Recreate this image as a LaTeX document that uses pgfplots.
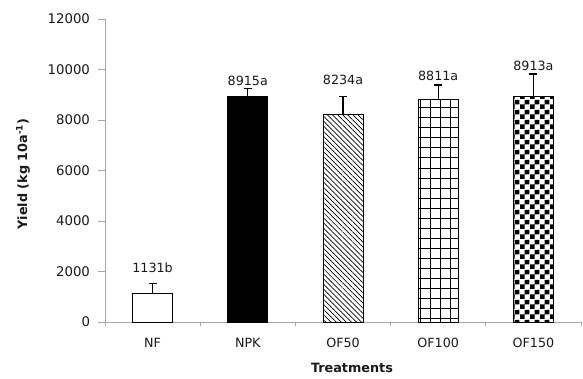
\documentclass[border=0pt]{standalone}
\usepackage{fontspec}
\setmainfont{DejaVu Sans}
\usepackage{pgfplots}
\pgfplotsset{compat=1.18}
\usetikzlibrary{patterns,patterns.meta}
\definecolor{axgray}{HTML}{A6A6A6}
\definecolor{txt}{HTML}{1A1A1A}
\pgfdeclarepatternformonly{mycheck}{\pgfpointorigin}{\pgfqpoint{10pt}{10pt}}{\pgfqpoint{10pt}{10pt}}{%
  \pgfpathrectangle{\pgfpointorigin}{\pgfqpoint{5pt}{5pt}}%
  \pgfpathrectangle{\pgfqpoint{5pt}{5pt}}{\pgfqpoint{5pt}{5pt}}%
  \pgfusepath{fill}}
\pgfplotstableread{
x y err
0 1131 400
1 8915 330
2 8234 700
3 8811 575
4 8913 910
}\data
\pgfplotstableread{
x y label
0 2150 1131b
1 9556 8915a
2 9584 8234a
3 9743 8811a
4 10139 8913a
}\labels
\begin{document}
\begin{tikzpicture}
\useasboundingbox (-105pt,-56pt) rectangle (478pt,322pt);
\begin{axis}[
  scale only axis,
  width=476pt, height=303pt,
  xmin=-0.5, xmax=4.5,
  ymin=0, ymax=12000,
  axis x line*=bottom, axis y line*=left,
  axis line style={axgray, line width=0.8pt},
  ytick={0,2000,...,12000},
  xtick={0,1,2,3,4},
  xticklabels={NF,NPK,OF50,OF100,OF150},
  minor xtick={-0.5,0.5,1.5,2.5,3.5,4.5},
  tick align=outside,
  major tick length=7pt,
  minor tick length=4pt,
  x tick style={axgray, line width=0.8pt},
  major x tick style={draw=none},
  y tick style={axgray, line width=0.8pt},
  scaled y ticks=false,
  /pgf/number format/assume math mode=true,
  yticklabel style={/pgf/number format/fixed, /pgf/number format/1000 sep={}, font=\fontsize{13.3}{15}\selectfont, text=txt, xshift=-4.5pt},
  xticklabel style={font=\fontsize{12.7}{14}\selectfont, text=txt, anchor=center, yshift=-14pt},
  every axis x label/.style={at={(axis description cs:0.5,0)}, yshift=-46pt, xshift=9pt, anchor=center, font=\bfseries\fontsize{12.8}{14}\selectfont, text=txt},
  every axis y label/.style={at={(axis description cs:0,0.5)}, xshift=-82pt, yshift=-3.5pt, rotate=90, anchor=center, font=\bfseries\fontsize{12.8}{14}\selectfont, text=txt},
  xlabel={Treatments},
  ylabel={Yield (kg 10a\textsuperscript{-1})},
  clip=false,
]
\addplot[ybar, bar shift=0pt, bar width=40pt, draw=black, line width=1pt, fill=white,
  error bars/.cd, y dir=plus, y explicit, error bar style={black, line width=1.2pt}, error mark options={rotate=90, mark size=4pt, line width=1.2pt}]
  table[x=x, y=y, y error=err, restrict expr to domain={\thisrow{x}}{0:0}] {\data};
\addplot[ybar, bar shift=0pt, bar width=40pt, draw=black, line width=1pt, fill=black,
  error bars/.cd, y dir=plus, y explicit, error bar style={black, line width=1.2pt}, error mark options={rotate=90, mark size=4pt, line width=1.2pt}]
  table[x=x, y=y, y error=err, restrict expr to domain={\thisrow{x}}{1:1}] {\data};
\addplot[ybar, bar shift=0pt, bar width=40pt, draw=black, line width=1pt, fill=white,
  pattern={Lines[angle=-45, distance=3.6pt, line width=0.7pt]},
  error bars/.cd, y dir=plus, y explicit, error bar style={black, line width=1.2pt}, error mark options={rotate=90, mark size=4pt, line width=1.2pt}]
  table[x=x, y=y, y error=err, restrict expr to domain={\thisrow{x}}{2:2}] {\data};
\addplot[ybar, bar shift=0pt, bar width=40pt, draw=black, line width=1pt, fill=white,
  pattern={Hatch[angle=0, distance=10pt, line width=1pt]},
  error bars/.cd, y dir=plus, y explicit, error bar style={black, line width=1.2pt}, error mark options={rotate=90, mark size=4pt, line width=1.2pt}]
  table[x=x, y=y, y error=err, restrict expr to domain={\thisrow{x}}{3:3}] {\data};
\addplot[ybar, bar shift=0pt, bar width=40pt, draw=black, line width=1pt, fill=white,
  pattern=mycheck,
  error bars/.cd, y dir=plus, y explicit, error bar style={black, line width=1.2pt}, error mark options={rotate=90, mark size=4pt, line width=1.2pt}]
  table[x=x, y=y, y error=err, restrict expr to domain={\thisrow{x}}{4:4}] {\data};
\addplot[draw=none, mark=none, nodes near coords, point meta=explicit symbolic,
  nodes near coords style={anchor=center, font=\fontsize{12.7}{14}\selectfont, text=txt, inner sep=0pt}]
  table[x=x, y=y, meta=label] {\labels};
\end{axis}
\end{tikzpicture}
\end{document}
